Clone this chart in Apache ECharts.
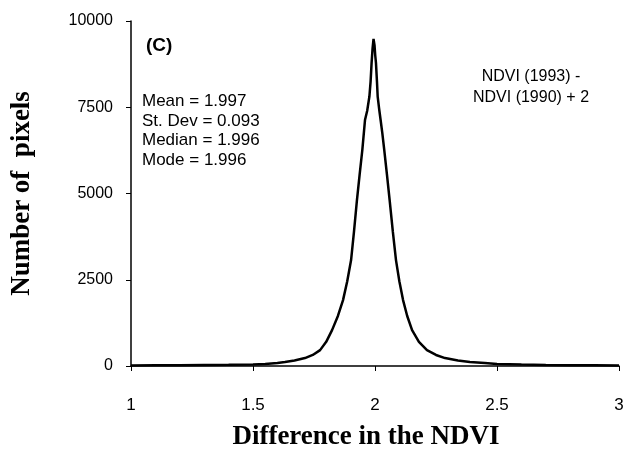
<!DOCTYPE html>
<html>
<head>
<meta charset="utf-8">
<script src="https://cdn.jsdelivr.net/npm/echarts@6/dist/echarts.min.js"></script>
<style>
  html, body { margin: 0; padding: 0; background: #fff; }
  #chart { width: 630px; height: 457px; }
</style>
</head>
<body>
<div id="chart"></div>
<script>
// Histogram of NDVI difference values (NDVI 1993 - NDVI 1990 + 2)
const ndviDiff = [1.00, 1.10, 1.20, 1.30, 1.40, 1.50, 1.55, 1.60, 1.631, 1.67,
  1.713, 1.745, 1.775, 1.80, 1.824, 1.848, 1.869, 1.886, 1.902, 1.914,
  1.926, 1.937, 1.948, 1.959, 1.968, 1.977, 1.982, 1.986, 1.990, 1.994,
  1.998, 2.001, 2.004, 2.008, 2.011, 2.017, 2.023, 2.030, 2.038, 2.049,
  2.060, 2.073, 2.086, 2.100, 2.115, 2.132, 2.152, 2.180, 2.213, 2.25,
  2.287, 2.34, 2.389, 2.45, 2.50, 2.60, 2.70, 2.80, 2.90, 3.00];
const pixelCount = [15, 20, 25, 30, 35, 45, 60, 85, 115, 160,
  230, 320, 460, 700, 1040, 1450, 1910, 2450, 3070, 3900,
  4810, 5550, 6260, 7130, 7400, 7810, 8250, 8780, 9200, 9480,
  9300, 9000, 8780, 8250, 7810, 7450, 7130, 6750, 6260, 5550,
  4810, 3900, 3070, 2450, 1910, 1450, 1040, 700, 460, 320,
  230, 160, 115, 85, 60, 40, 30, 25, 20, 15];
const xTicks = [1, 1.5, 2, 2.5, 3];
const yTicks = [0, 2500, 5000, 7500, 10000];
const statLines = ['Mean = 1.997', 'St. Dev = 0.093', 'Median = 1.996', 'Mode = 1.996'];
const panelTag = '(C)';
const formulaLines = ['NDVI (1993) -', 'NDVI (1990) + 2'];

const chart = echarts.init(document.getElementById('chart'), null, { renderer: 'canvas' });

const sansFont = '"Liberation Sans", Arial, sans-serif';
const serifFont = '"Liberation Serif", "Times New Roman", serif';

const option = {
  backgroundColor: '#ffffff',
  animation: false,
  grid: { left: 131, right: 11, top: 21, bottom: 91, containLabel: false },
  xAxis: {
    type: 'value',
    min: xTicks[0],
    max: xTicks[xTicks.length - 1],
    interval: 0.5,
    name: 'Difference in the NDVI',
    nameLocation: 'middle',
    nameGap: 58,
    nameTextStyle: { fontFamily: serifFont, fontWeight: 'bold', fontSize: 27, color: '#000',
      padding: [0, 18, 0, 0] },
    axisLine: { lineStyle: { color: '#000', width: 1.5 } },
    axisTick: { show: true, inside: false, length: 5, lineStyle: { color: '#000', width: 1 } },
    axisLabel: { margin: 31, fontFamily: sansFont, fontSize: 17, color: '#000',
      formatter: v => String(v) },
    splitLine: { show: false }
  },
  yAxis: {
    type: 'value',
    min: yTicks[0],
    max: yTicks[yTicks.length - 1],
    interval: 2500,
    name: 'Number of  pixels',
    nameLocation: 'middle',
    nameGap: 95,
    nameTextStyle: { fontFamily: serifFont, fontWeight: 'bold', fontSize: 27, color: '#000' },
    axisLine: { show: true, lineStyle: { color: '#000', width: 1.5 } },
    axisTick: { show: true, inside: false, length: 5, lineStyle: { color: '#000', width: 1 } },
    axisLabel: { margin: 18, fontFamily: sansFont, fontSize: 16, color: '#000',
      formatter: v => String(v) },
    splitLine: { show: false }
  },
  series: [{
    type: 'line',
    data: ndviDiff.map((x, i) => [x, pixelCount[i]]),
    showSymbol: false,
    smooth: false,
    lineStyle: { color: '#000', width: 2.5 },
    z: 3
  }],
  graphic: [
    {
      type: 'text', x: 146, y: 36,
      style: { text: panelTag, font: 'bold 19px ' + sansFont, fill: '#000' }
    },
    {
      type: 'text', x: 142, y: 92,
      style: { text: statLines.join('\n'), font: '17px ' + sansFont, lineHeight: 19.5, fill: '#000' }
    },
    {
      type: 'text', x: 531, y: 66,
      style: { text: formulaLines.join('\n'), font: '16px ' + sansFont, lineHeight: 21, fill: '#000', align: 'center' }
    }
  ]
};

chart.setOption(option);
</script>
</body>
</html>
